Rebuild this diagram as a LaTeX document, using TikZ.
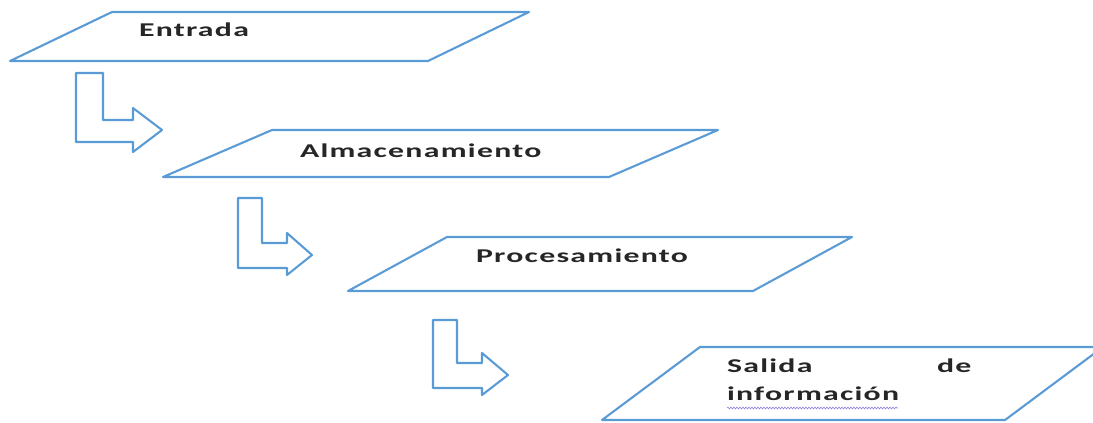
\documentclass[tikz,border=0pt]{standalone}
\usepackage{fontspec}
\usepackage{graphicx}
\setmainfont{Carlito}
\newfontfamily\lblfont[LetterSpace=4]{Carlito}
\usetikzlibrary{decorations.pathmorphing,calc}
\definecolor{shapeblue}{HTML}{5B9BD5}
\definecolor{spellviolet}{HTML}{8C7FE0}
\newcommand{\xstretch}[1]{\scalebox{1.63}[1]{#1}}
\begin{document}
\begin{tikzpicture}[x=1pt,y=-1pt,
  outline/.style={draw=shapeblue,line width=2.1pt,line join=round},
  lbl/.style={inner sep=0pt,outer sep=0pt,anchor=base west,text=black!85,
    font=\lblfont\bfseries\fontsize{19.5}{28}\selectfont}]
\useasboundingbox (0,0) rectangle (1093,423);
% parallelograms
\draw[outline] (112,12) coordinate (p1a) -- (529,12) -- (428,61) -- (10,61) -- cycle;
\draw[outline] (272,130) coordinate (p2a) -- (718,130) -- (609,177) -- (163,177) -- cycle;
\draw[outline] (447,237) coordinate (p3a) -- (852,237) -- (753,291) -- (348,291) -- cycle;
\begin{scope}
\clip (0,0) rectangle (1093,423);
\draw[outline] (700,347) coordinate (p4a) -- (1103,347) -- (1005,420) -- (602,420) -- cycle;
\end{scope}
% labels
\node[lbl] (entrada) at (139,36) {\xstretch{Entrada}};
\node[lbl] (almac) at (300,157) {\xstretch{Almacenamiento}};
\node[lbl] (proc) at (476,262) {\xstretch{Procesamiento}};
\node[lbl] (salida) at (727,372) {\xstretch{\parbox[t]{150pt}{Salida\hfill de\\información}}};
\draw[spellviolet,line width=0.6pt,decorate,decoration={snake,amplitude=0.9pt,segment length=3pt}]
  (727,408) -- (898,408);
% L-shaped arrows
\draw[outline] (76,73) -- (103,73) -- (103,120) -- (133,120) -- (133,108) -- (162,130)
  -- (133,152) -- (133,142) -- (76,142) -- cycle;
\draw[outline] (238,198) -- (262,198) -- (262,243) -- (287,243) -- (287,233) -- (312,255)
  -- (287,275) -- (287,268) -- (238,268) -- cycle;
\draw[outline] (433,320) -- (457,320) -- (457,363) -- (482,363) -- (482,353) -- (508,375)
  -- (482,395) -- (482,388) -- (433,388) -- cycle;
\end{tikzpicture}
\end{document}
